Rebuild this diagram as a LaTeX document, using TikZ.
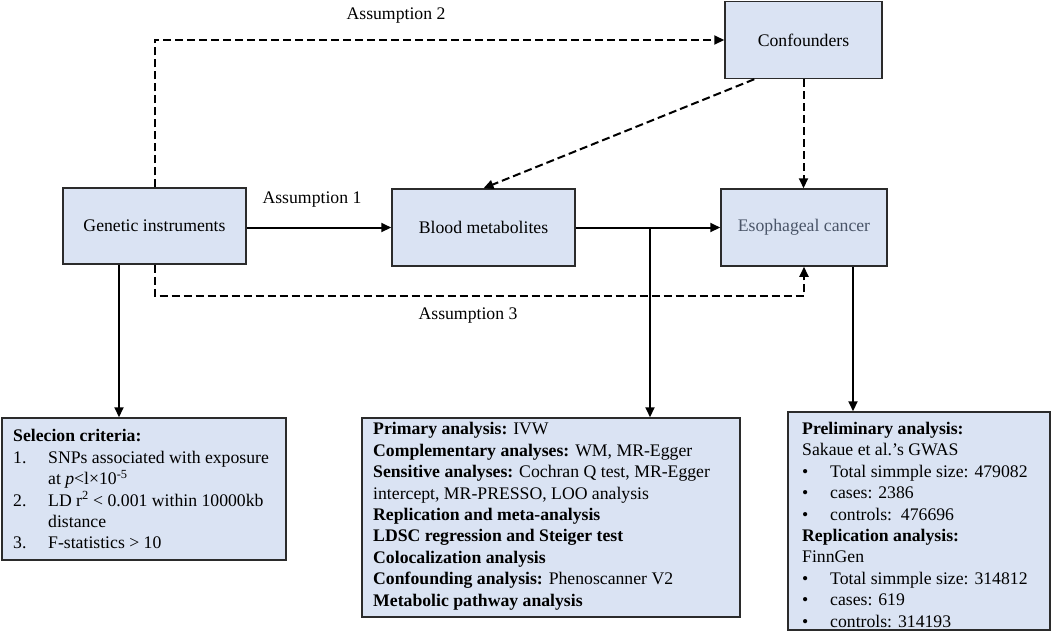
\documentclass[tikz,border=0pt]{standalone}
\usepackage{fontspec}
\setmainfont{Liberation Serif}
\usetikzlibrary{arrows.meta}
\definecolor{boxfill}{HTML}{DAE3F3}
\definecolor{boxline}{HTML}{2B2B2B}
\definecolor{ectext}{HTML}{4A5568}
\begin{document}
\begin{tikzpicture}[x=1pt,y=-1pt,
  mainbox/.style={draw=boxline, fill=boxfill, line width=1.5pt, inner sep=0pt, font=\fontsize{17.7}{21}\selectfont},
  conn/.style={line width=2pt, -{Triangle[length=10pt,width=9pt]}},
  dconn/.style={conn, dash pattern=on 8pt off 4pt},
  lbl/.style={font=\fontsize{17.7}{21}\selectfont, inner sep=0pt},
  boxtext/.style={anchor=north west, align=left, inner sep=0pt, font=\fontsize{17.7}{21.4}\selectfont}]
\useasboundingbox (0,0) rectangle (1052,641);
% main nodes
\node[mainbox, minimum width=183pt, minimum height=76pt] (gi) at (154.5,226) {Genetic instruments};
\node[mainbox, minimum width=183pt, minimum height=77pt] (bm) at (483.5,227.5) {Blood metabolites};
\node[mainbox, minimum width=166pt, minimum height=77pt, text=ectext] (ec) at (804,227.5) {Esophageal cancer};
\node[mainbox, minimum width=157pt, minimum height=77pt] (conf) at (803.5,40) {Confounders};
% bottom boxes
\node[mainbox, minimum width=284pt, minimum height=142pt] (sel) at (144,489) {};
\node[mainbox, minimum width=378pt, minimum height=199pt] (mid) at (551,517.5) {};
\node[mainbox, minimum width=262pt, minimum height=218pt] (rb) at (919,521) {};
% box texts
\node[boxtext] (seltxt) at (13,429.5) {\textbf{Selecion criteria:}\\
\makebox[35pt][l]{1.}SNPs associated with exposure\\
\hspace*{35pt}at \textit{p}<l×10\textsuperscript{-5}\\
\makebox[35pt][l]{2.}LD r\textsuperscript{2} < 0.001 within 10000kb\\
\hspace*{35pt}distance\\
\makebox[35pt][l]{3.}F-statistics > 10};
\node[boxtext] (midtxt) at (373,422.5) {\textbf{Primary analysis:} IVW\\
\textbf{Complementary analyses:} WM, MR-Egger\\
\textbf{Sensitive analyses:} Cochran Q test, MR-Egger\\
intercept, MR-PRESSO, LOO analysis\\
\textbf{Replication and meta-analysis}\\
\textbf{LDSC regression and Steiger test}\\
\textbf{Colocalization analysis}\\
\textbf{Confounding analysis:} Phenoscanner V2\\
\textbf{Metabolic pathway analysis}};
\node[boxtext] (rbtxt) at (802,422) {\textbf{Preliminary analysis:}\\
Sakaue et al.'s GWAS\\
\makebox[28pt][l]{•}Total simmple size: 479082\\
\makebox[28pt][l]{•}cases: 2386\\
\makebox[28pt][l]{•}controls:\ \ 476696\\
\textbf{Replication analysis:}\\
FinnGen\\
\makebox[28pt][l]{•}Total simmple size: 314812\\
\makebox[28pt][l]{•}cases: 619\\
\makebox[28pt][l]{•}controls: 314193};
% labels
\node[lbl] (a2) at (396,16) {Assumption 2};
\node[lbl] (a1) at (312,200) {Assumption 1};
\node[lbl] (a3) at (468,316) {Assumption 3};
% connectors
\draw[conn] (gi.east |- bm.west) -- (bm.west);
\draw[conn] (bm.east) -- (ec.west);
\coordinate (br) at (650,227.5);
\draw[conn] (br) -- (br |- mid.north);
\draw[dconn] (gi.north) |- (conf.west);
\draw[dconn] ([xshift=30pt]conf.south west) -- (bm.north);
\draw[dconn] (conf.south) -- (conf.south |- ec.north);
\draw[dconn] (gi.south) -- ++(0,31) -| (ec.south);
\coordinate (gis) at ([xshift=-35.5pt]gi.south);
\draw[conn] (gis) -- (gis |- sel.north);
\coordinate (ecs) at ([xshift=49pt]ec.south);
\draw[conn] (ecs) -- (ecs |- rb.north);
\end{tikzpicture}
\end{document}
